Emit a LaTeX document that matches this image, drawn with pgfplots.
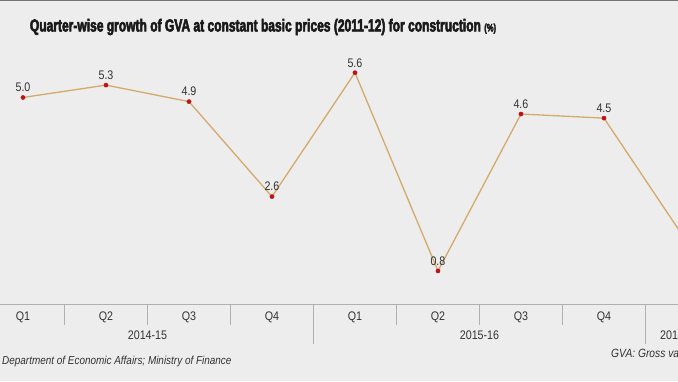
\documentclass[border=0pt]{standalone}
\usepackage{pgfplots}
\pgfplotsset{compat=1.18}
\usepackage{fontspec}
\setmainfont{Liberation Sans}[FakeStretch=0.86]
\newfontfamily\titlefont{Liberation Sans}[FakeStretch=0.69,BoldFeatures={FakeBold=3}]
\definecolor{bg}{HTML}{EDEDED}
\definecolor{linec}{HTML}{D4AA6C}
\definecolor{dotc}{HTML}{C0101A}
\definecolor{txt}{HTML}{333333}
\definecolor{sepc}{HTML}{B0B0B0}
\begin{document}
\begin{tikzpicture}[x=1bp,y=1bp]
\fill[bg] (0,-77) rectangle (678,304);
\draw[color=black!55, line width=2bp] (0,303.5) -- (678,303.5);
\begin{axis}[
  at={(0,0)}, anchor=south west, scale only axis,
  width=678bp, height=264bp,
  xmin=-0.277, xmax=7.892, ymin=0, ymax=6.392,
  axis x line*=bottom, axis y line=none,
  x axis line style={draw=sepc, line width=0.8bp},
  ytick={1,2,3,4,5,6}, yticklabels={},
  ymajorgrids=true,
  major grid style={draw=white, line width=1.2bp},
  xtick={0,1,2,3,4,5,6,7},
  xticklabels={Q1,Q2,Q3,Q4,Q1,Q2,Q3,Q4},
  major tick length=0pt,
  xticklabel style={font=\fontsize{12.5}{14}\selectfont, text=txt, yshift=-4bp},
  /pgf/number format/assume math mode=true,
]
\addplot[color=linec, line width=1.3bp, mark=none] coordinates {
  (0,5.0) (1,5.3) (2,4.9) (3,2.6) (4,5.6) (5,0.8) (6,4.6) (7,4.5) (8,1.5)
};
\addplot[only marks, mark=*, mark size=2.1bp, color=dotc,
  nodes near coords,
  nodes near coords style={font=\fontsize{12.5}{14}\selectfont, text=txt, anchor=south, yshift=2bp,
    /pgf/number format/.cd, fixed, fixed zerofill, precision=1},
] coordinates {
  (0,5.0) (1,5.3) (2,4.9) (3,2.6) (4,5.6) (5,0.8) (6,4.6) (7,4.5)
};
\end{axis}
% category separators
\foreach \X in {64.5,147.5,230.5,396.5,479.5,562.5} {
  \draw[sepc, line width=0.8bp] (\X,0) -- (\X,-21);
}
\foreach \X in {313.5,645.5} {
  \draw[sepc, line width=0.8bp] (\X,0) -- (\X,-40);
}
\node[text=txt, font=\fontsize{12.5}{14}\selectfont] at (147.5,-31) {2014-15};
\node[text=txt, font=\fontsize{12.5}{14}\selectfont] at (479.5,-31) {2015-16};
\node[text=txt, font=\fontsize{12.5}{14}\selectfont, anchor=west, inner sep=0pt] at (660,-31) {2016-17};
\node[text=txt, font=\fontsize{11.6}{14}\selectfont\itshape, anchor=west, inner sep=0pt] at (2,-58) {Department of Economic Affairs; Ministry of Finance};
\node[text=txt, font=\fontsize{12}{14}\selectfont\itshape, anchor=west, inner sep=0pt] at (611,-49) {GVA: Gross value added};
\node[text=black!90, anchor=center, inner sep=0pt] at (263,277) {\titlefont\bfseries\fontsize{17.5}{20}\selectfont Quarter-wise growth of GVA at constant basic prices (2011-12) for construction {\fontsize{11}{12}\selectfont (\%)}};
\pgfresetboundingbox
\useasboundingbox (0,-77) rectangle (678,304);
\end{tikzpicture}
\end{document}
